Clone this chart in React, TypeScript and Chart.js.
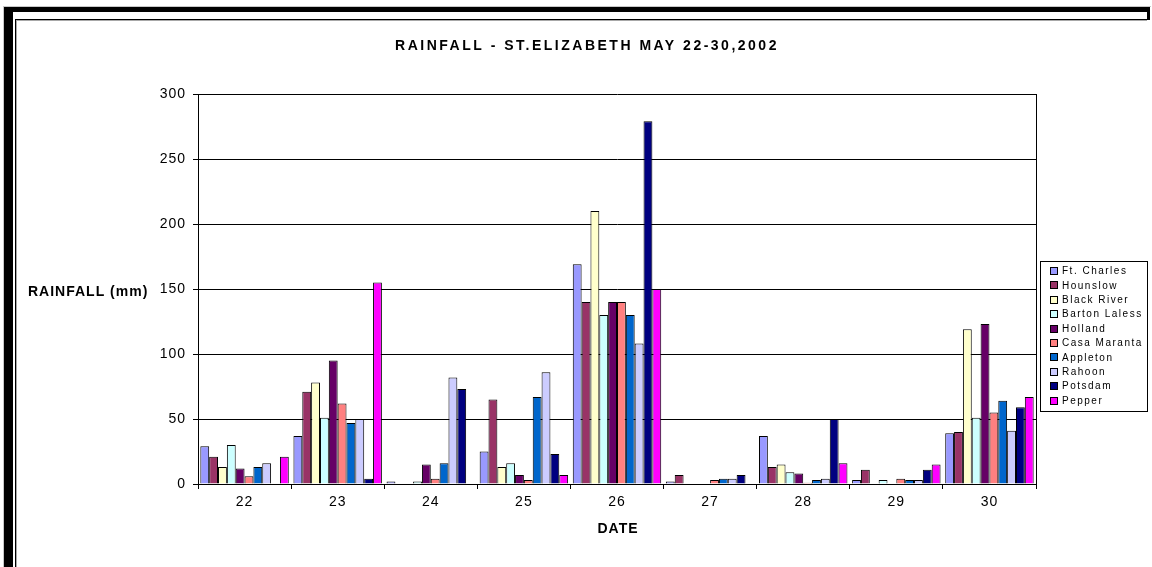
import React, { useEffect, useRef } from "react";
import { Chart, registerables } from "chart.js";

Chart.register(...registerables);

const FONT = '"Liberation Sans", Arial, Helvetica, sans-serif';

const TITLE = "RAINFALL - ST.ELIZABETH MAY 22-30,2002";
const Y_LABEL = "RAINFALL (mm)";
const X_LABEL = "DATE";

const dates = ["22", "23", "24", "25", "26", "27", "28", "29", "30"];
const yTicks = [0, 50, 100, 150, 200, 250, 300];

const ftCharles = [29, 37, 2, 25, 169, 2, 37, 3, 39];
const hounslow = [21, 71, 0, 65, 140, 7, 13, 11, 40];
const blackRiver = [13, 78, 0, 13, 210, 0, 15, 0, 119];
const bartonLaless = [30, 51, 2, 16, 130, 0, 9, 3, 51];
const holland = [12, 95, 15, 7, 140, 0, 8, 0, 123];
const casaMaranta = [6, 62, 4, 3, 140, 3, 1, 4, 55];
const appleton = [13, 47, 16, 67, 130, 4, 3, 3, 64];
const rahoon = [16, 50, 82, 86, 108, 4, 4, 3, 41];
const potsdam = [0, 4, 73, 23, 279, 7, 50, 11, 59];
const pepper = [21, 155, 0, 7, 150, 0, 16, 15, 67];

const seriesNames = [
  "Ft. Charles",
  "Hounslow",
  "Black River",
  "Barton Laless",
  "Holland",
  "Casa Maranta",
  "Appleton",
  "Rahoon",
  "Potsdam",
  "Pepper",
];
const seriesValues = [
  ftCharles,
  hounslow,
  blackRiver,
  bartonLaless,
  holland,
  casaMaranta,
  appleton,
  rahoon,
  potsdam,
  pepper,
];
const seriesColors = [
  "#9999FF",
  "#993366",
  "#FFFFCC",
  "#CCFFFF",
  "#660066",
  "#FF8080",
  "#0066CC",
  "#CCCCFF",
  "#000080",
  "#FF00FF",
];

const W = 1152;
const H = 567;
const PLOT_L = 198;
const PLOT_R = 1036;
const PLOT_T = 94;
const PLOT_B = 484;
const Y_W = 40;
const X_H = 60;

const decor = {
  id: "decor",
  beforeDraw(chart: any) {
    const ctx = chart.ctx;
    ctx.save();
    ctx.fillStyle = "#fff";
    ctx.fillRect(0, 0, chart.width, chart.height);
    ctx.fillStyle = "#c8c8c8";
    ctx.fillRect(3, 6, 1148, 1);
    ctx.fillRect(3, 6, 1, H - 6);
    ctx.fillStyle = "#000";
    ctx.fillRect(4, 7, 1146, 5);
    ctx.fillRect(4, 7, 9, H - 7);
    ctx.fillRect(1147, 7, 3, 13);
    ctx.fillRect(15, 19, 1135, 1);
    ctx.fillRect(15, 19, 1, H - 19);
    ctx.fillStyle = "#a8a8a8";
    ctx.fillRect(16, 20, 1131, 1);
    ctx.fillRect(16, 20, 1, H - 20);
    ctx.restore();
    ctx.letterSpacing = "1px";
  },
  afterDraw(chart: any) {
    const ctx = chart.ctx;
    const ca = chart.chartArea;
    ctx.save();
    ctx.strokeStyle = "#000";
    ctx.lineWidth = 1;
    ctx.beginPath();
    const rx = Math.round(ca.right) + 0.5;
    ctx.moveTo(rx, Math.round(ca.top));
    ctx.lineTo(rx, Math.round(ca.bottom) + 5);
    ctx.stroke();

    ctx.fillStyle = "#000";
    ctx.textBaseline = "middle";
    ctx.textAlign = "center";
    ctx.font = `bold 14px ${FONT}`;
    ctx.letterSpacing = "2.5px";
    ctx.fillText(TITLE, 587, 46);

    ctx.letterSpacing = "1px";
    ctx.font = `bold 14px ${FONT}`;
    ctx.fillText(X_LABEL, (ca.left + ca.right) / 2 + 1, 529);

    ctx.textAlign = "left";
    ctx.fillText(Y_LABEL, 28, 292);

    // legend
    const lx = 1040.5;
    const ly = 261.5;
    ctx.strokeStyle = "#000";
    ctx.strokeRect(lx, ly, 107, 150);
    ctx.font = `10px ${FONT}`;
    ctx.letterSpacing = "1.5px";
    chart.data.datasets.forEach((ds: any, i: number) => {
      const cy = 271 + i * 14.4;
      ctx.fillStyle = ds.backgroundColor;
      ctx.fillRect(1050, Math.round(cy - 4), 8, 8);
      ctx.strokeStyle = "#000";
      ctx.strokeRect(1050.5, Math.round(cy - 4) + 0.5, 7, 7);
      ctx.fillStyle = "#000";
      ctx.fillText(ds.label, 1062, cy + 0.5);
    });
    ctx.restore();
  },
};

export default function App() {
  const ref = useRef<HTMLCanvasElement | null>(null);

  useEffect(() => {
    if (!ref.current) return;
    const chart = new Chart(ref.current, {
      type: "bar",
      data: {
        labels: dates,
        datasets: seriesNames.map((name, i) => ({
          label: name,
          data: seriesValues[i],
          backgroundColor: seriesColors[i],
          borderColor: "#000",
          borderWidth: 1,
          borderSkipped: "start",
          categoryPercentage: 0.95,
          barPercentage: 1.0,
        })),
      },
      options: {
        responsive: false,
        animation: false,
        devicePixelRatio: 1,
        layout: {
          padding: {
            left: PLOT_L - Y_W,
            right: W - PLOT_R,
            top: PLOT_T,
            bottom: H - PLOT_B - X_H,
          },
        },
        plugins: {
          legend: { display: false },
          title: { display: false },
          tooltip: { enabled: false },
        },
        scales: {
          x: {
            grid: {
              offset: true,
              drawOnChartArea: false,
              color: "#000",
              tickColor: "#000",
              tickLength: 5,
            },
            border: { color: "#000", width: 1 },
            ticks: {
              color: "#000",
              font: { family: FONT, size: 14 },
              padding: 5,
              maxRotation: 0,
              autoSkip: false,
            },
            afterFit: (s: any) => {
              s.height = X_H;
            },
          },
          y: {
            min: 0,
            max: 300,
            afterBuildTicks: (s: any) => {
              s.ticks = yTicks.map((v) => ({ value: v }));
            },
            grid: {
              color: "#000",
              tickColor: "#000",
              tickLength: 5,
              lineWidth: 1,
            },
            border: { color: "#000", width: 1 },
            ticks: {
              color: "#000",
              font: { family: FONT, size: 14 },
              padding: 7,
            },
            afterFit: (s: any) => {
              s.width = Y_W;
            },
          },
        },
      },
      plugins: [decor],
    });
    return () => chart.destroy();
  }, []);

  return (
    <canvas
      ref={ref}
      width={W}
      height={H}
      style={{ position: "fixed", left: 0, top: 0, width: W, height: H }}
    />
  );
}
